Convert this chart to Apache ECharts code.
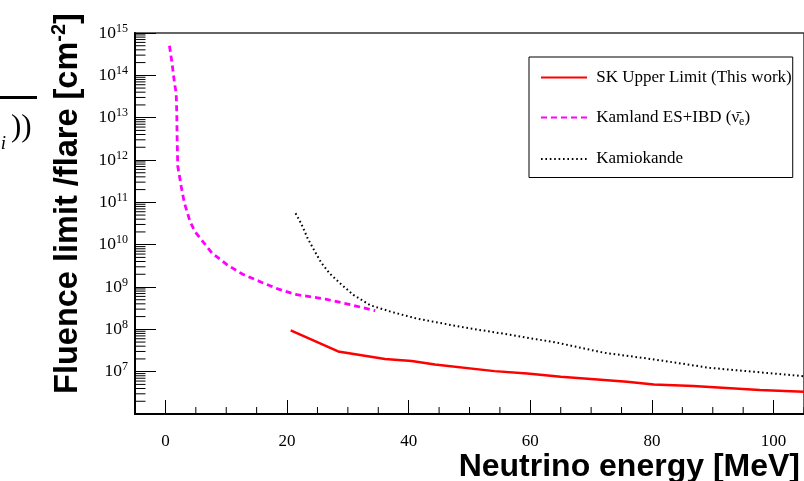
<!DOCTYPE html>
<html><head><meta charset="utf-8">
<script src="https://cdn.jsdelivr.net/npm/echarts@6/dist/echarts.min.js"></script>
<style>html,body{margin:0;padding:0;background:#fff}#c{width:804px;height:481px}</style>
</head><body><div id="c"></div>
<script>
// ---- data ----
const skEnergy = [20.6, 28.4, 36.1, 40.5, 44.3, 54.1, 59.5, 65.0, 70.5, 75.9, 80.3, 86.8, 97.7, 105];
const skFluence = [9.4e7, 3.0e7, 2.0e7, 1.78e7, 1.48e7, 1.03e7, 9.1e6, 7.6e6, 6.6e6, 5.75e6, 5.0e6, 4.6e6, 3.7e6, 3.35e6];

const kamlandEnergy = [0.67, 1.12, 1.49, 1.77, 1.87, 1.93, 2.03, 2.31, 2.59, 3.11, 4.06, 4.89, 5.74, 7.69, 10.21, 12.71, 15.78, 18.58, 21.6, 26.3, 30.5, 34.5];
const kamlandFluence = [5.0e14, 1.8e14, 6.6e13, 3.8e13, 1.3e13, 3.0e12, 7.1e11, 4.2e11, 2.4e11, 9.8e10, 3.5e10, 2.0e10, 1.4e10, 6.3e9, 3.3e9, 2.0e9, 1.3e9, 8.9e8, 6.6e8, 5.2e8, 3.8e8, 2.75e8];

const kamiokaEnergy = [21.4, 22.3, 23.4, 24.5, 25.6, 27.0, 28.7, 30.9, 33.7, 37.1, 41.3, 43.7, 49.2, 56.3, 64.5, 72.1, 80.3, 89.5, 105];
const kamiokaFluence = [5.5e10, 3.2e10, 1.4e10, 7.2e9, 3.8e9, 2.1e9, 1.23e9, 6.5e8, 3.7e8, 2.6e8, 1.8e8, 1.55e8, 1.1e8, 7.6e7, 4.8e7, 2.8e7, 1.95e7, 1.23e7, 7.8e6];

const xTickLabels = ['0', '20', '40', '60', '80', '100'];
const yTickExponents = [7, 8, 9, 10, 11, 12, 13, 14, 15];

const seriesNames = ['SK Upper Limit (This work)', 'Kamland ES+IBD', 'Kamiokande'];

// axis minor tick positions (ROOT style: 2..9 x 10^n, every 5 MeV)
const yMinorTicks = [];
for (let e = 6; e < 15; e++) for (let k = 2; k <= 9; k++) yMinorTicks.push(k * Math.pow(10, e));
const xMinorTicks = [];
for (let v = 5; v <= 105; v += 5) if (v % 20 !== 0) xMinorTicks.push(v);

const zip = (a, b) => a.map((v, i) => [v, b[i]]);
const SERIF = '"Liberation Serif", "Times New Roman", serif';
const SANS = '"Liberation Sans", Arial, sans-serif';

const chart = echarts.init(document.getElementById('c'), null, {renderer: 'canvas'});
chart.setOption({
  animation: false,
  backgroundColor: '#fff',
  grid: {left: 135, top: 33, right: -4, bottom: 67, show: true, borderColor: '#333', borderWidth: 1.5, backgroundColor: 'transparent'},
  xAxis: {
    type: 'value', min: -5, max: 105, splitNumber: 5,
    axisLine: {show: true, onZero: false, lineStyle: {color: '#000', width: 2}},
    axisTick: {show: true, inside: true, length: 14, lineStyle: {color: '#000', width: 1}},
    axisLabel: {
      showMinLabel: false, showMaxLabel: false, margin: 19,
      fontFamily: SERIF, fontSize: 17, color: '#000',
      formatter: v => xTickLabels.includes(String(v)) ? String(v) : ''
    },
    splitLine: {show: false}
  },
  yAxis: {
    type: 'log', logBase: 10, min: 1e6, max: 1e15,
    axisLine: {show: true, onZero: false, lineStyle: {color: '#000', width: 2}},
    axisTick: {show: true, inside: true, length: 21, lineStyle: {color: '#000', width: 1}},
    axisLabel: {
      showMinLabel: false, margin: 7,
      formatter: v => {
        const e = Math.round(Math.log10(v));
        return yTickExponents.includes(e) ? '{b|10}{s|' + e + '}' : '';
      },
      rich: {
        b: {fontFamily: SERIF, fontSize: 17.5, lineHeight: 21, color: '#000'},
        s: {fontFamily: SERIF, fontSize: 12, lineHeight: 12, verticalAlign: 'top', color: '#000'}
      }
    },
    splitLine: {show: false}
  },
  legend: {
    orient: 'vertical', left: 529, top: 57,
    padding: [12, 1, 10, 11], itemGap: 23, itemWidth: 46, itemHeight: 14,
    borderColor: '#000', borderWidth: 1, borderRadius: 0, backgroundColor: '#fff',
    itemStyle: {opacity: 0},
    data: seriesNames,
    formatter: name => name === 'Kamland ES+IBD'
      ? '{t| Kamland ES+IBD (ν\u0304}{e|e}{t|)}'
      : '{t| ' + name + '}',
    textStyle: {
      fontFamily: SERIF, fontSize: 17, color: '#000',
      rich: {
        t: {fontFamily: SERIF, fontSize: 17, lineHeight: 20, color: '#000'},
        e: {fontFamily: SERIF, fontSize: 12, lineHeight: 15, verticalAlign: 'bottom', color: '#000'}
      }
    }
  },
  graphic: [
    {type: 'text', x: 68, y: 203.5, rotation: Math.PI / 2, silent: true,
     style: {text: '{t|Fluence limit /flare [cm}{s|-2}{t|]}', align: 'center', verticalAlign: 'middle',
       rich: {
         t: {fontFamily: SANS, fontWeight: 'bold', fontSize: 32.5, lineHeight: 38, fill: '#000'},
         s: {fontFamily: SANS, fontWeight: 'bold', fontSize: 20, lineHeight: 23, verticalAlign: 'top', fill: '#000'}
       }}},
    {type: 'text', x: 800, y: 467, silent: true,
     style: {text: 'Neutrino energy [MeV]', align: 'right', verticalAlign: 'middle',
       font: 'bold 32px "Liberation Sans", Arial, sans-serif', fill: '#000'}},
    {type: 'line', silent: true, shape: {x1: 0, y1: 97.5, x2: 37, y2: 97.5}, style: {stroke: '#000', lineWidth: 3}},
    {type: 'text', x: 11, y: 128, silent: true,
     style: {text: '))', align: 'left', verticalAlign: 'middle', font: '31px "Liberation Serif", serif', fill: '#000'}},
    {type: 'text', x: 6, y: 144, silent: true,
     style: {text: 'i', align: 'right', verticalAlign: 'middle', font: 'italic 19px "Liberation Serif", serif', fill: '#000'}}
  ],
  series: [
    {name: seriesNames[2], type: 'line', data: zip(kamiokaEnergy, kamiokaFluence), symbol: 'none', showSymbol: false,
     color: '#000', lineStyle: {color: '#000', width: 2, type: [1.6, 2.8]}, z: 3},
    {name: seriesNames[1], type: 'line', data: zip(kamlandEnergy, kamlandFluence), symbol: 'none', showSymbol: false,
     color: '#ff00ff', lineStyle: {color: '#ff00ff', width: 2.8, type: [6, 4]}, z: 4},
    {name: seriesNames[0], type: 'line', data: zip(skEnergy, skFluence), symbol: 'none', showSymbol: false,
     color: '#ff0000', lineStyle: {color: '#ff0000', width: 2.5}, z: 5},
    {name: 'yMinor', type: 'custom', silent: true, clip: false, z: 6,
     data: yMinorTicks.map(v => [-5, v]),
     renderItem: (params, api) => {
       const p = api.coord([api.value(0), api.value(1)]);
       return {type: 'line', shape: {x1: p[0], y1: p[1], x2: p[0] + 10.5, y2: p[1]}, style: {stroke: '#000', lineWidth: 1}};
     }},
    {name: 'xMinor', type: 'custom', silent: true, clip: false, z: 6,
     data: xMinorTicks.map(v => [v, 1e6]),
     renderItem: (params, api) => {
       const p = api.coord([api.value(0), api.value(1)]);
       return {type: 'line', shape: {x1: p[0], y1: p[1], x2: p[0], y2: p[1] - 7}, style: {stroke: '#000', lineWidth: 1}};
     }}
  ]
});
</script></body></html>
